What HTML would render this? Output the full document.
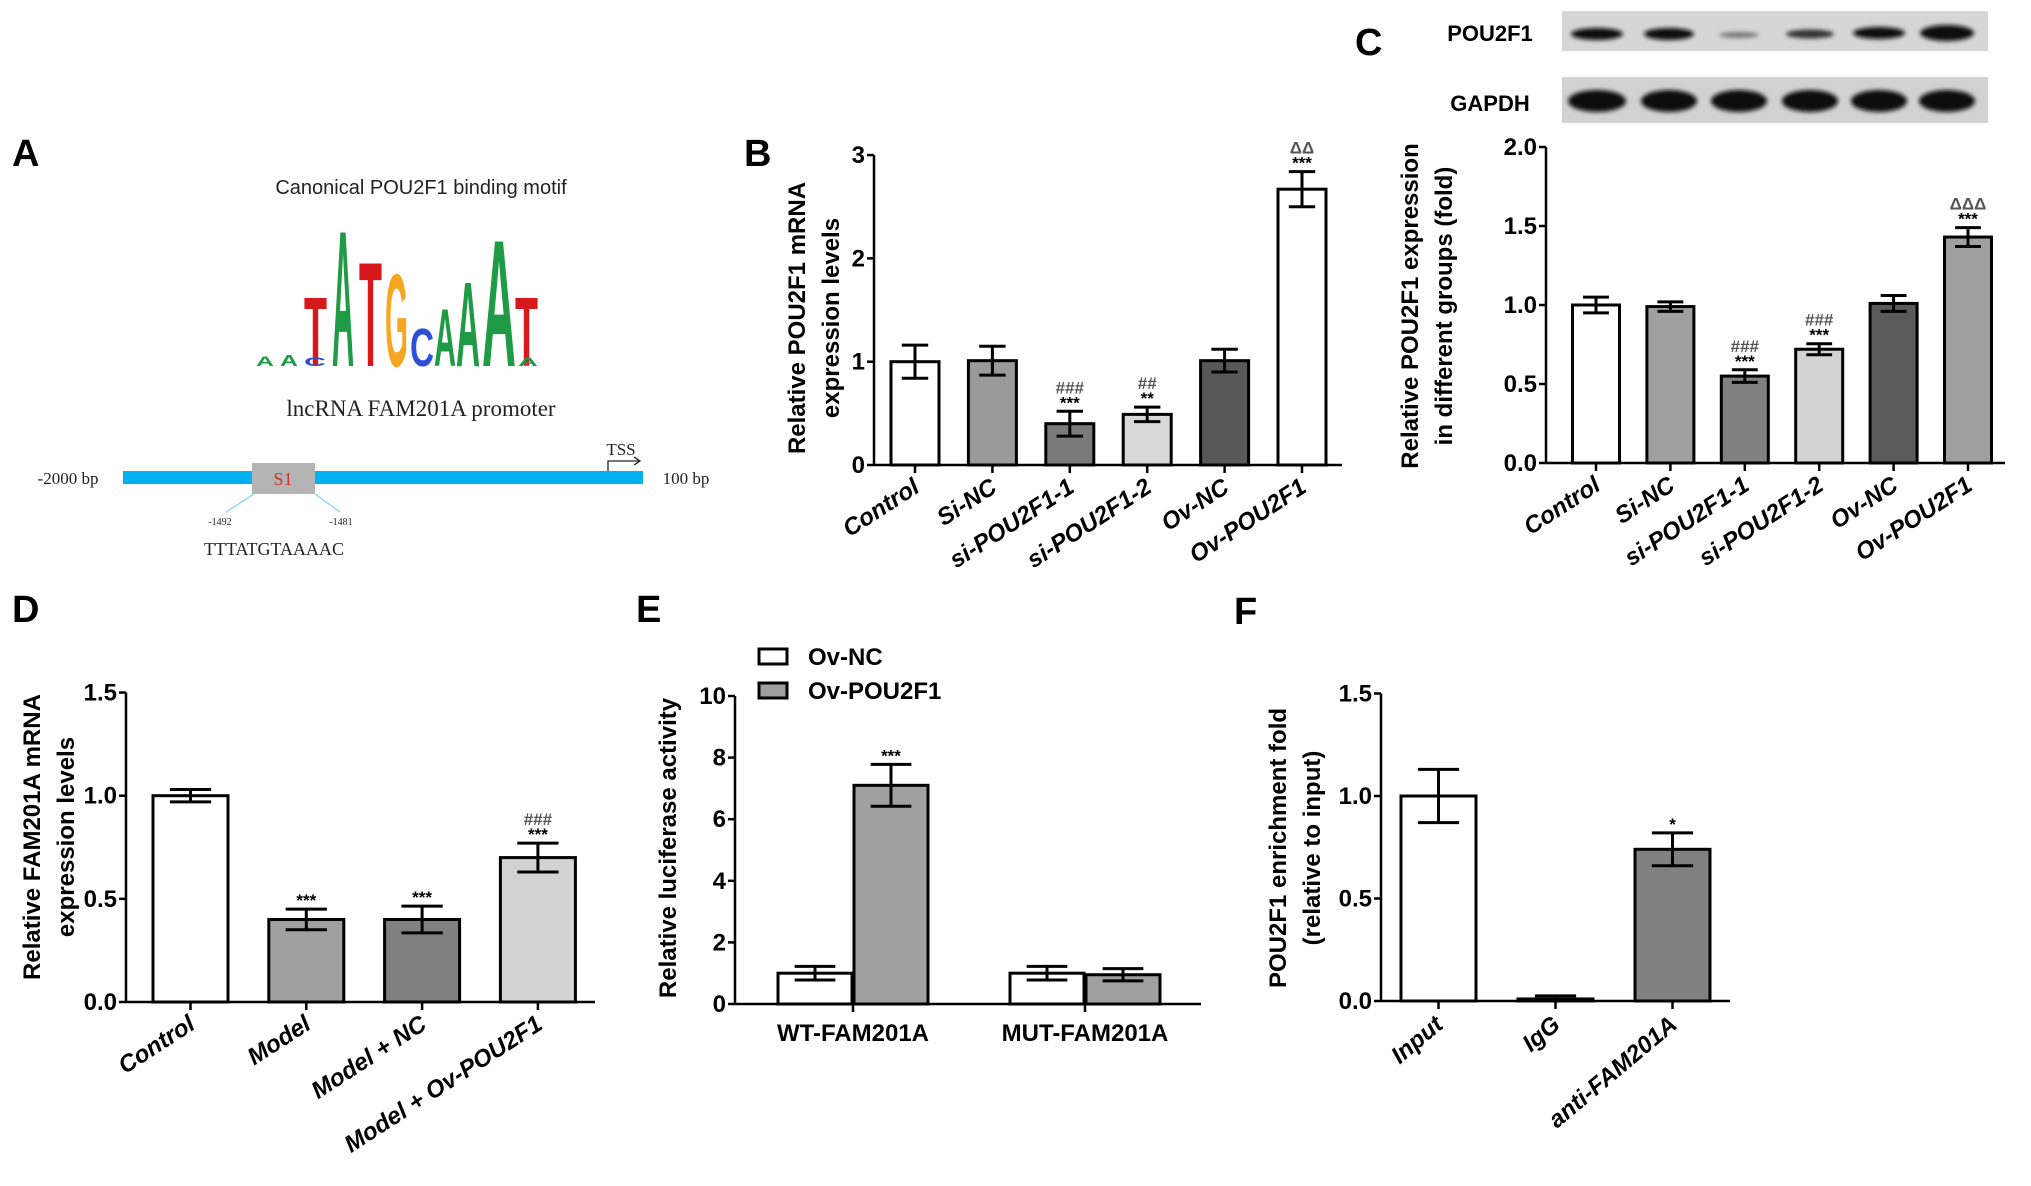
<!DOCTYPE html>
<html><head><meta charset="utf-8"><style>
html,body{margin:0;padding:0;background:#fff}
svg{display:block}
text{font-family:"Liberation Sans",Arial,sans-serif}
.serif{font-family:"Liberation Serif",serif}
.tick{font-family:"Liberation Sans Narrow","Liberation Sans",sans-serif;font-weight:bold;font-size:24px}
.ttl{font-weight:bold;font-size:24px}
.xl{font-weight:bold;font-style:italic;font-size:24px}
.pl{font-weight:bold;font-size:38px}
.ann{font-weight:bold;font-size:17px}
</style></head><body>
<svg id="fig" xmlns="http://www.w3.org/2000/svg" width="2031" height="1186" viewBox="0 0 2031 1186">
<defs><filter id="blur" x="-20%" y="-50%" width="140%" height="200%"><feGaussianBlur stdDeviation="2.2"/></filter></defs>
<g>
<text class="pl" x="12" y="166">A</text>
<text x="421" y="194" font-size="20" text-anchor="middle" fill="#222">Canonical POU2F1 binding motif</text>
<g>
<text x="304" y="366" font-size="98" font-weight="bold" fill="#d7191c" textLength="23" lengthAdjust="spacingAndGlyphs">T</text>
<text x="332" y="366" font-size="194" font-weight="bold" fill="#1f9a45" textLength="22" lengthAdjust="spacingAndGlyphs">A</text>
<text x="359" y="366" font-size="149" font-weight="bold" fill="#d7191c" textLength="23" lengthAdjust="spacingAndGlyphs">T</text>
<text x="385" y="366" font-size="132" font-weight="bold" fill="#f5a623" textLength="23" lengthAdjust="spacingAndGlyphs">G</text>
<text x="410" y="366" font-size="54" font-weight="bold" fill="#2c4fd6" textLength="24" lengthAdjust="spacingAndGlyphs">C</text>
<text x="434" y="366" font-size="82" font-weight="bold" fill="#1f9a45" textLength="22" lengthAdjust="spacingAndGlyphs">A</text>
<text x="456" y="366" font-size="121" font-weight="bold" fill="#1f9a45" textLength="24" lengthAdjust="spacingAndGlyphs">A</text>
<text x="482" y="366" font-size="181" font-weight="bold" fill="#1f9a45" textLength="34" lengthAdjust="spacingAndGlyphs">A</text>
<text x="515" y="366" font-size="98" font-weight="bold" fill="#d7191c" textLength="23" lengthAdjust="spacingAndGlyphs">T</text>
<text x="256" y="366" font-size="14" font-weight="bold" fill="#1f9a45" textLength="18" lengthAdjust="spacingAndGlyphs">A</text>
<text x="280" y="366" font-size="16" font-weight="bold" fill="#1f9a45" textLength="18" lengthAdjust="spacingAndGlyphs">A</text>
<text x="304" y="366" font-size="12" font-weight="bold" fill="#2c4fd6" textLength="22" lengthAdjust="spacingAndGlyphs">C</text>
<text x="518" y="366" font-size="12" font-weight="bold" fill="#1f9a45" textLength="20" lengthAdjust="spacingAndGlyphs">A</text>
</g>
<text x="421" y="416" class="serif" font-size="23" text-anchor="middle" fill="#222">lncRNA FAM201A promoter</text>
<rect x="123" y="471" width="520" height="13" fill="#00b0f0"/>
<rect x="252" y="463" width="63" height="31" fill="#b4b4b4"/>
<text x="283" y="485" class="serif" font-size="18" text-anchor="middle" fill="#d03030">S1</text>
<text x="68" y="484" class="serif" font-size="17" text-anchor="middle" fill="#222">-2000 bp</text>
<text x="686" y="484" class="serif" font-size="17" text-anchor="middle" fill="#222">100 bp</text>
<text x="621" y="455" class="serif" font-size="17" text-anchor="middle" fill="#222">TSS</text>
<path d="M608 471 V461 H639" stroke="#222" stroke-width="1.3" fill="none"/>
<path d="M634 457 L640 461 L634 465" stroke="#222" stroke-width="1.3" fill="none"/>
<line x1="254" y1="494" x2="226" y2="512" stroke="#7fd3f0" stroke-width="1.2"/>
<line x1="315" y1="494" x2="340" y2="512" stroke="#7fd3f0" stroke-width="1.2"/>
<text x="220" y="525" class="serif" font-size="10" text-anchor="middle" fill="#222">-1492</text>
<text x="341" y="525" class="serif" font-size="10" text-anchor="middle" fill="#222">-1481</text>
<text x="274" y="555" class="serif" font-size="18" text-anchor="middle" fill="#222">TTTATGTAAAAC</text>
</g>
<g>
<text class="pl" x="1355" y="55">C</text>
<text x="1490" y="41" font-size="22" font-weight="bold" text-anchor="middle">POU2F1</text>
<text x="1490" y="111" font-size="22" font-weight="bold" text-anchor="middle">GAPDH</text>
<rect x="1562" y="11" width="426" height="40" fill="#d6d6d6"/>
<rect x="1562" y="77" width="426" height="46" fill="#d2d2d2"/>
<g filter="url(#blur)" fill="#111">
<ellipse cx="1597" cy="34" rx="26" ry="6"/><ellipse cx="1669" cy="34" rx="25" ry="6"/>
<ellipse cx="1739" cy="35" rx="20" ry="3" fill="#777"/><ellipse cx="1810" cy="34" rx="24" ry="4.5" fill="#333"/>
<ellipse cx="1879" cy="33" rx="26" ry="6"/><ellipse cx="1947" cy="33" rx="27" ry="8"/>
<ellipse cx="1597" cy="101" rx="29" ry="11"/><ellipse cx="1669" cy="101" rx="28" ry="11"/>
<ellipse cx="1739" cy="101" rx="28" ry="11"/><ellipse cx="1810" cy="101" rx="28" ry="11"/>
<ellipse cx="1879" cy="101" rx="28" ry="11"/><ellipse cx="1947" cy="101" rx="28" ry="11"/>
</g>
</g>
<text class="pl" x="744" y="166">B</text>
<text class="pl" x="12" y="622">D</text>
<text class="pl" x="636" y="622">E</text>
<text class="pl" x="1234" y="624">F</text>
</svg>
<script>
// ---- data ----
const catsB = ['Control','Si-NC','si-POU2F1-1','si-POU2F1-2','Ov-NC','Ov-POU2F1'];
const valsB = [1.0, 1.01, 0.40, 0.49, 1.01, 2.67];
const errsB = [0.16, 0.14, 0.12, 0.07, 0.11, 0.17];
const annB = [[],[],['###','***'],['##','**'],[],['ΔΔ','***']];
const ticksB = [0,1,2,3];
const tickLabelsB = ['0','1','2','3'];

const catsC = ['Control','Si-NC','si-POU2F1-1','si-POU2F1-2','Ov-NC','Ov-POU2F1'];
const valsC = [1.0, 0.99, 0.55, 0.72, 1.01, 1.43];
const errsC = [0.05, 0.03, 0.04, 0.035, 0.05, 0.06];
const annC = [[],[],['###','***'],['###','***'],[],['ΔΔΔ','***']];
const ticksC = [0,0.5,1,1.5,2];
const tickLabelsC = ['0.0','0.5','1.0','1.5','2.0'];

const catsD = ['Control','Model','Model + NC','Model + Ov-POU2F1'];
const valsD = [1.0, 0.40, 0.40, 0.70];
const errsD = [0.03, 0.05, 0.065, 0.07];
const annD = [[],['***'],['***'],['###','***']];
const ticksD = [0,0.5,1,1.5];
const tickLabelsD = ['0.0','0.5','1.0','1.5'];

const groupsE = ['WT-FAM201A','MUT-FAM201A'];
const seriesNamesE = ['Ov-NC','Ov-POU2F1'];
const valsENC = [1.0, 1.0];
const valsEOv = [7.1, 0.95];
const errsENC = [0.22, 0.22];
const errsEOv = [0.68, 0.2];
const annEOv = [['***'],[]];
const ticksE = [0,2,4,6,8,10];
const tickLabelsE = ['0','2','4','6','8','10'];

const catsF = ['Input','IgG','anti-FAM201A'];
const valsF = [1.0, 0.01, 0.74];
const errsF = [0.13, 0.015, 0.08];
const annF = [[],[],['*']];
const ticksF = [0,0.5,1,1.5];
const tickLabelsF = ['0.0','0.5','1.0','1.5'];

const NS='http://www.w3.org/2000/svg';
const svg=document.getElementById('fig');
function el(tag,attrs,parent,txt){const e=document.createElementNS(NS,tag);for(const k in attrs)e.setAttribute(k,attrs[k]);if(txt!==undefined)e.textContent=txt;(parent||svg).appendChild(e);return e;}

function axes(g,c,ticks,labels){
  const y=v=>c.y0-v*c.unit;
  const ax=el('line',{x1:c.ax,y1:y(ticks[ticks.length-1]),x2:c.ax,y2:c.y0,stroke:'#000','stroke-width':2.5},g);
  
  
  const xa=el('line',{x1:c.ax,y1:c.y0,x2:c.xEnd,y2:c.y0,stroke:'#000','stroke-width':2.5},g);
  
  
  ticks.forEach((t,i)=>{
    el('line',{x1:c.ax-7,y1:y(t),x2:c.ax,y2:y(t),stroke:'#000','stroke-width':2.5},g);
    const tl=el('text',{x:c.ax-9,y:y(t)+8,'text-anchor':'end',class:'tick'},g,labels[i]);
    
    
  });
  return y;
}
function bar(g,cx,w,v,e,fill,y,ann,name){
  const r=el('rect',{x:cx-w/2,y:y(v),width:w,height:y(0)-y(v),fill:fill,stroke:'#000','stroke-width':3},g);
  
  
  const cw=w*0.55, t=y(v+e), b=y(Math.max(0,v-e));
  el('line',{x1:cx,y1:t,x2:cx,y2:b,stroke:'#000','stroke-width':3},g);
  el('line',{x1:cx-cw/2,y1:t,x2:cx+cw/2,y2:t,stroke:'#000','stroke-width':3},g);
  el('line',{x1:cx-cw/2,y1:b,x2:cx+cw/2,y2:b,stroke:'#000','stroke-width':3},g);
  let ay=t-3;
  for(let k=ann.length-1;k>=0;k--){
    const s=ann[k];
    const star=s.indexOf('*')>=0;
    const a=el('text',{x:cx,y:ay,'text-anchor':'middle',class:'ann',fill:star?'#000':'#555','font-size':star?24:15},g,s);
    
    
    ay-=star?15:15;
  }
}
function ytitle(g,x,yc,lines){
  lines.forEach((l,i)=>{
    const t=el('text',{transform:`translate(${x+i*34},${yc}) rotate(-90)`,'text-anchor':'middle',class:'ttl'},g,l);
    
    
  });
}
function xlabels(g,cats,centers,y0,ang,dx,fs){
  cats.forEach((c,i)=>{
    const t=el('text',{transform:`translate(${centers[i]+dx},${y0+26}) rotate(${ang})`,'text-anchor':'end',class:'xl','font-size':fs},g,c);
    
    
    el('line',{x1:centers[i],y1:y0,x2:centers[i],y2:y0+8,stroke:'#000','stroke-width':2.5},g);
  });
}
function simpleChart(name,c,cats,vals,errs,anns,ticks,labels,colors,title,ang){
  const g=el('g',{});
  
  
  const y=axes(g,c,ticks,labels);
  const centers=cats.map((_,i)=>c.first+i*c.step);
  vals.forEach((v,i)=>bar(g,centers[i],c.w,v,errs[i],colors[i],y,anns[i],'bar-'+cats[i].toLowerCase().replace(/[^a-z0-9]+/g,'-')));
  xlabels(g,cats,centers,c.y0,ang,c.ldx,c.fs||24);
  ytitle(g,c.tx,c.ty,title);
}
simpleChart('chart-b',{ax:874,y0:465,unit:103.3,xEnd:1342,first:915,step:77.4,w:48,ldx:6,tx:805,ty:318},
  catsB,valsB,errsB,annB,ticksB,tickLabelsB,['#fff','#9a9a9a','#7a7a7a','#d8d8d8','#585858','#fff'],
  ['Relative POU2F1 mRNA','expression levels'],-33);
simpleChart('chart-c',{ax:1546,y0:463,unit:158,xEnd:2005,first:1596,step:74.4,w:47,ldx:6,tx:1418,ty:306},
  catsC,valsC,errsC,annC,ticksC,tickLabelsC,['#fff','#a0a0a0','#808080','#d3d3d3','#5a5a5a','#a0a0a0'],
  ['Relative  POU2F1  expression','in different groups (fold)'],-33);
simpleChart('chart-d',{ax:126,y0:1002,unit:206.3,xEnd:595,first:190.5,step:115.8,w:75,ldx:6,tx:40,ty:837,fs:26},
  catsD,valsD,errsD,annD,ticksD,tickLabelsD,['#fff','#a0a0a0','#808080','#d3d3d3'],
  ['Relative FAM201A mRNA','expression levels'],-33);
simpleChart('chart-f',{ax:1381,y0:1001,unit:205,xEnd:1730,first:1438.5,step:117,w:75,ldx:6,tx:1286,ty:848,fs:22},
  catsF,valsF,errsF,annF,ticksF,tickLabelsF,['#fff','#444','#808080'],
  ['POU2F1 enrichment fold','(relative to input)'],-40);

(function(){
  const g=el('g',{});
  
  
  const c={ax:735,y0:1004,unit:30.8,xEnd:1201};
  const y=axes(g,c,ticksE,tickLabelsE);
  const gc=[853,1085], w=74;
  groupsE.forEach((gn,i)=>{
    bar(g,gc[i]-w/2-1,w,valsENC[i],errsENC[i],'#fff',y,[],'bar-ov-nc-'+gn.toLowerCase());
    bar(g,gc[i]+w/2+1,w,valsEOv[i],errsEOv[i],'#a0a0a0',y,annEOv[i],'bar-ov-pou2f1-'+gn.toLowerCase());
    el('line',{x1:gc[i],y1:c.y0,x2:gc[i],y2:c.y0+8,stroke:'#000','stroke-width':2.5},g);
    const t=el('text',{x:gc[i],y:c.y0+37,'text-anchor':'middle',class:'tick','font-size':25},g,gn);
    
    
  });
  ytitle(g,676,848,['Relative luciferase activity']);
  const fills=['#fff','#a0a0a0'];
  seriesNamesE.forEach((s,i)=>{
    const ly=649+i*34;
    const r=el('rect',{x:759,y:ly,width:28,height:15,fill:fills[i],stroke:'#000','stroke-width':3},g);
    
    
    const t=el('text',{x:808,y:ly+16,class:'tick','font-size':25},g,s);
    
    
  });
})();
</script>
</body></html>
